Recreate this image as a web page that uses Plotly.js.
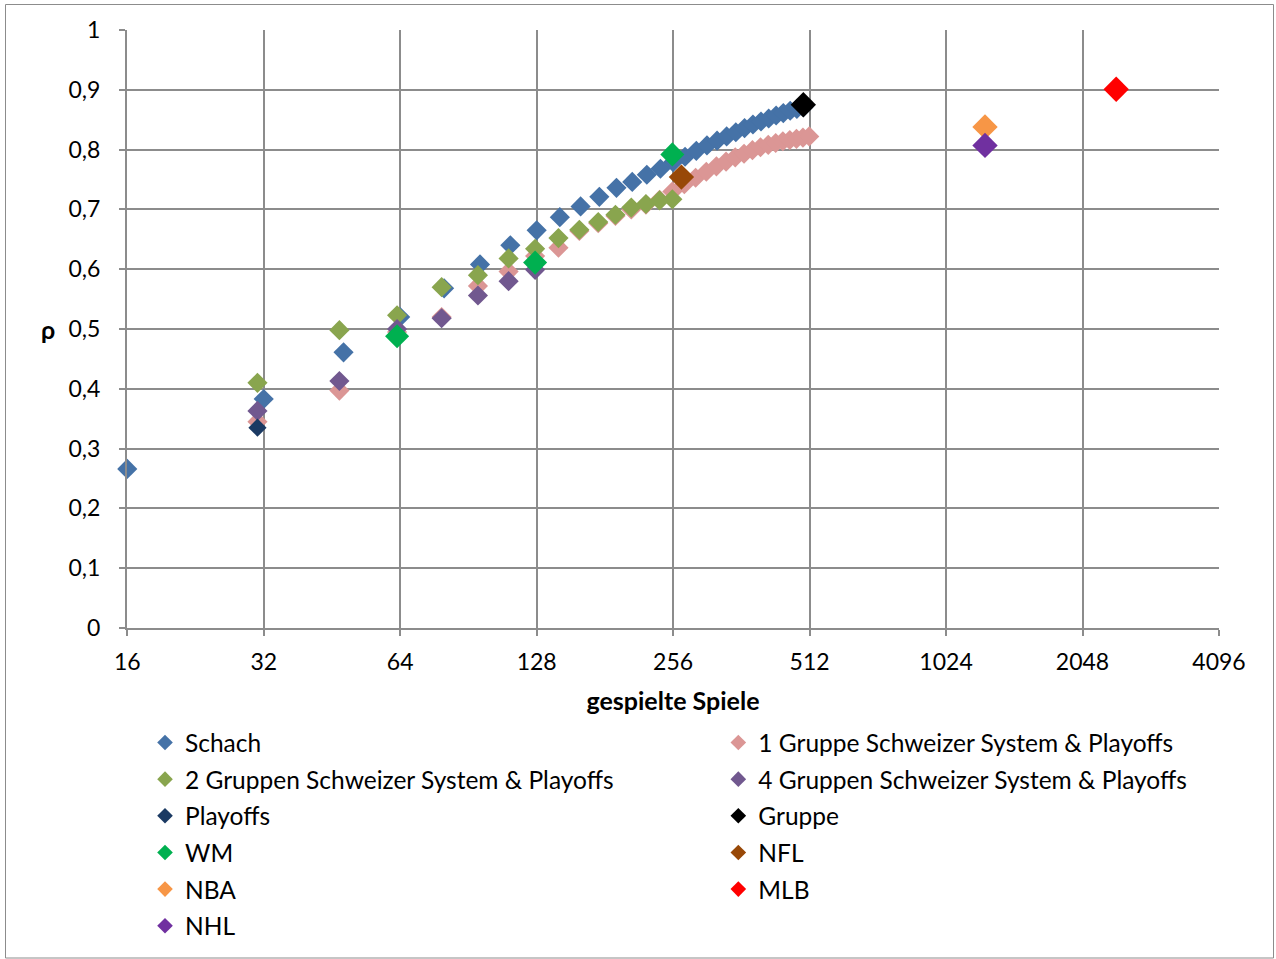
<!DOCTYPE html>
<html>
<head>
<meta charset="utf-8">
<script src="https://cdn.plot.ly/plotly-3.0.1.min.js"></script>
<style>
  html, body { margin: 0; padding: 0; background: #ffffff; }
  #chart { width: 1276px; height: 959px; }
</style>
</head>
<body>
<div id="chart"></div>
<script>
// ---- data ----
const schachX = [16, 32, 48, 64, 80, 96, 112, 128, 144, 160, 176, 192, 208, 224, 240, 256,
                 272, 288, 304, 320, 336, 352, 368, 384, 400, 416, 432, 448, 464, 480, 496];
const schachY = [0.266, 0.383, 0.461, 0.520, 0.568, 0.608, 0.640, 0.665, 0.687, 0.705, 0.721, 0.736, 0.746, 0.758, 0.768, 0.779,
                 0.788, 0.798, 0.807, 0.815, 0.822, 0.829, 0.836, 0.842, 0.847, 0.852, 0.857, 0.861, 0.865, 0.868, 0.871];

const gruppe1X = [31, 47, 63, 79, 95, 111, 127, 143, 159, 175, 191, 207, 223, 239, 255,
                  271, 287, 303, 319, 335, 351, 367, 383, 399, 415, 431, 447, 463, 479, 495, 511];
const gruppe1Y = [0.345, 0.397, 0.495, 0.520, 0.572, 0.596, 0.622, 0.636, 0.664, 0.677, 0.689, 0.700, 0.708, 0.716, 0.730,
                  0.742, 0.753, 0.763, 0.772, 0.780, 0.787, 0.793, 0.799, 0.804, 0.808, 0.811, 0.814, 0.816, 0.818, 0.820, 0.822];

const gruppen2X = [31, 47, 63, 79, 95, 111, 127, 143, 159, 175, 191, 207, 223, 239, 255];
const gruppen2Y = [0.410, 0.498, 0.523, 0.570, 0.590, 0.618, 0.634, 0.652, 0.666, 0.679, 0.691, 0.703, 0.709, 0.715, 0.717];

const gruppen4X = [31, 47, 63, 79, 95, 111, 127];
const gruppen4Y = [0.363, 0.413, 0.500, 0.518, 0.556, 0.580, 0.599];

const playoffsX = [31];
const playoffsY = [0.335];

const gruppeX = [496];
const gruppeY = [0.875];

const wmX = [63, 127, 255];
const wmY = [0.488, 0.611, 0.792];

const nflX = [267];
const nflY = [0.754];

const nbaX = [1248];
const nbaY = [0.838];

const mlbX = [2430];
const mlbY = [0.901];

const nhlX = [1248];
const nhlY = [0.807];

const xTickVals = [16, 32, 64, 128, 256, 512, 1024, 2048, 4096];
const xTickText = ['16', '32', '64', '128', '256', '512', '1024', '2048', '4096'];
const yTickVals = [0, 0.1, 0.2, 0.3, 0.4, 0.5, 0.6, 0.7, 0.8, 0.9, 1];
const yTickText = ['0', '0,1', '0,2', '0,3', '0,4', '0,5', '0,6', '0,7', '0,8', '0,9', '1'];

// ---- styling ----
const FONT = 'Lato, "Open Sans", sans-serif';
const GRID = '#8c8c8c';
const SMALL = 15.5;
const BIG = 19.5;

function series(name, x, y, color, size, legend, group) {
  return {
    type: 'scatter', mode: 'markers', name: name, x: x, y: y,
    marker: { symbol: 'diamond', color: color, size: size, line: { width: 0 } },
    cliponaxis: false,
    legend: legend,
    legendgroup: group,
    hoverinfo: 'x+y+name'
  };
}

const traces = [
  series('Schach', schachX, schachY, '#4572A7', SMALL, 'legend', 'g1'),
  series('1 Gruppe Schweizer System &amp; Playoffs', gruppe1X, gruppe1Y, '#DB9695', SMALL, 'legend2', 'g2'),
  series('2 Gruppen Schweizer System &amp; Playoffs', gruppen2X, gruppen2Y, '#89A54E', SMALL, 'legend', 'g3'),
  series('4 Gruppen Schweizer System &amp; Playoffs', gruppen4X, gruppen4Y, '#71588F', SMALL, 'legend2', 'g4'),
  series('Playoffs', playoffsX, playoffsY, '#1B3A63', 14, 'legend', 'g5'),
  series('Gruppe', gruppeX, gruppeY, '#000000', BIG, 'legend2', 'g6'),
  series('WM', wmX, wmY, '#00B050', BIG - 1, 'legend', 'g7'),
  series('NFL', nflX, nflY, '#984807', BIG, 'legend2', 'g8'),
  series('NBA', nbaX, nbaY, '#F79646', BIG, 'legend', 'g9'),
  series('MLB', mlbX, mlbY, '#FF0000', BIG, 'legend2', 'g10'),
  series('NHL', nhlX, nhlY, '#7030A0', BIG, 'legend', 'g11')
];

const legendCommon = {
  orientation: 'v',
  yanchor: 'top', xanchor: 'left',
  y: -0.154,
  font: { family: FONT, size: 24.5, color: '#000000' },
  itemsizing: 'constant',
  tracegroupgap: 1.8,
  traceorder: 'grouped',
  bgcolor: 'rgba(0,0,0,0)',
  borderwidth: 0
};

const layout = {
  width: 1276, height: 959,
  paper_bgcolor: '#ffffff', plot_bgcolor: '#ffffff',
  font: { family: FONT, size: 23, color: '#000000' },
  margin: { l: 127, r: 57, t: 30, b: 331, pad: 0, autoexpand: false },
  showlegend: true,
  xaxis: {
    type: 'log',
    range: [Math.log10(15.98), Math.log10(4096)],
    tickvals: xTickVals, ticktext: xTickText,
    showgrid: true, gridcolor: GRID, gridwidth: 2,
    showline: true, linecolor: GRID, linewidth: 2,
    ticks: 'outside', ticklen: 6, tickcolor: GRID, tickwidth: 2,
    ticklabelstandoff: 6,
    zeroline: false,
    tickfont: { family: FONT, size: 23, color: '#000000' },
    title: { text: '<b>gespielte Spiele</b>', font: { family: FONT, size: 25, color: '#000000' }, standoff: 19 }
  },
  yaxis: {
    range: [0, 1],
    tickvals: yTickVals, ticktext: yTickText,
    showgrid: true, gridcolor: GRID, gridwidth: 2,
    showline: true, linecolor: GRID, linewidth: 2,
    ticks: 'outside', ticklen: 6, tickcolor: GRID, tickwidth: 2,
    ticklabelstandoff: 14,
    zeroline: false,
    tickfont: { family: FONT, size: 23, color: '#000000' }
  },
  legend: Object.assign({}, legendCommon, { x: 0.0165 }),
  legend2: Object.assign({}, legendCommon, { x: 0.5415 }),
  annotations: [
    { xref: 'paper', yref: 'paper', x: (48 - 127) / 1092, y: 0.5, xanchor: 'center', yanchor: 'middle',
      text: '<b>ρ</b>', showarrow: false, font: { family: FONT, size: 25, color: '#000000' } }
  ],
  shapes: [
    { type: 'rect', xref: 'paper', yref: 'paper',
      x0: (5.5 - 127) / 1092, x1: (1273.5 - 127) / 1092,
      y0: (628 - 958) / 598, y1: (628 - 4.5) / 598,
      line: { color: '#8c8c8c', width: 1 }, fillcolor: 'rgba(0,0,0,0)', layer: 'below' }
  ]
};

Plotly.newPlot('chart', traces, layout, { displayModeBar: false, staticPlot: true });
</script>
</body>
</html>
